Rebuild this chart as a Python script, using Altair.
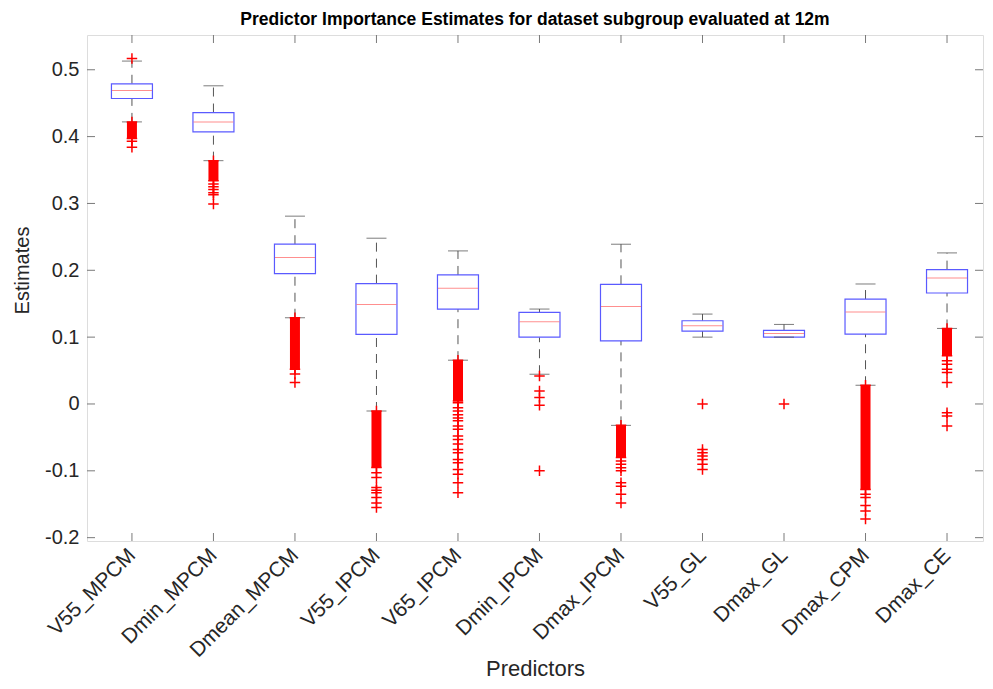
import json
import altair as alt
import pandas as pd

# ---------------- data ----------------
predictors = ["V55_MPCM", "Dmin_MPCM", "Dmean_MPCM", "V55_IPCM", "V65_IPCM",
              "Dmin_IPCM", "Dmax_IPCM", "V55_GL", "Dmax_GL", "Dmax_CPM", "Dmax_CE"]

whisker_lo = [0.422, 0.364, 0.129, -0.0105, 0.0655, 0.0445, -0.032, 0.100, 0.100, 0.028, 0.113]
q1         = [0.457, 0.407, 0.195, 0.104, 0.142, 0.100, 0.0945, 0.109, 0.100, 0.1045, 0.166]
median     = [0.469, 0.422, 0.219, 0.149, 0.173, 0.123, 0.146, 0.117, 0.1055, 0.1375, 0.1885]
q3         = [0.479, 0.436, 0.239, 0.180, 0.193, 0.137, 0.179, 0.1245, 0.110, 0.157, 0.201]
whisker_hi = [0.513, 0.476, 0.281, 0.248, 0.229, 0.142, 0.239, 0.1345, 0.119, 0.1795, 0.226]

# ranges where the outlier crosses overlap into a solid red column
dense_hi = [0.422, 0.364, 0.129, -0.0105, 0.0655, None, -0.032, None, None, 0.028, 0.113]
dense_lo = [0.397, 0.334, 0.052, -0.095, 0.0045, None, -0.080, None, None, -0.128, 0.072]

# individual outliers outside the dense columns
outliers = {
    "V55_MPCM": [0.517, 0.393, 0.384],
    "Dmin_MPCM": [0.329, 0.325, 0.321, 0.316, 0.313, 0.299],
    "Dmean_MPCM": [0.045, 0.032],
    "V55_IPCM": [-0.103, -0.110, -0.125, -0.129, -0.133, -0.140, -0.148, -0.155],
    "V65_IPCM": [0.002, -0.0055, -0.0105, -0.016, -0.021, -0.025, -0.033, -0.038,
                 -0.048, -0.053, -0.060, -0.068, -0.073, -0.083, -0.088, -0.098,
                 -0.105, -0.118, -0.133],
    "Dmin_IPCM": [0.042, 0.0195, 0.0095, -0.002, -0.100],
    "Dmax_IPCM": [-0.0855, -0.090, -0.0955, -0.100, -0.118, -0.123, -0.135, -0.148],
    "V55_GL": [0.0, -0.068, -0.073, -0.078, -0.083, -0.090, -0.098],
    "Dmax_GL": [0.0],
    "Dmax_CPM": [-0.135, -0.140, -0.152, -0.160, -0.172],
    "Dmax_CE": [0.0645, 0.0595, 0.052, 0.047, 0.032, -0.013, -0.018, -0.033],
}

y_ticks = [-0.2, -0.1, 0.0, 0.1, 0.2, 0.3, 0.4, 0.5]

# ---------------- tables ----------------
positions = list(range(1, len(predictors) + 1))
box_df = pd.DataFrame({
    "pos": positions, "name": predictors,
    "wl": whisker_lo, "q1": q1, "med": median, "q3": q3, "wh": whisker_hi,
})
dense_df = pd.DataFrame({"pos": positions, "hi": dense_hi, "lo": dense_lo}).dropna()
out_rows = []
for i, name in enumerate(predictors):
    for v in outliers.get(name, []):
        out_rows.append({"pos": i + 1, "v": v})
out_df = pd.DataFrame(out_rows)
ytick_df = pd.DataFrame({"v": y_ticks})
xtick_df = pd.DataFrame({"pos": positions})

W, H = 896, 506
FONT = "Liberation Sans"
AX = "#7a7a7a"
TXT = "#262626"

label_expr = json.dumps(predictors) + "[round(datum.value) - 1]"

xscale = alt.Scale(domain=[0.51, 11.38], nice=False, zero=False)
yscale = alt.Scale(domain=[-0.205, 0.552], nice=False, zero=False)

xaxis = alt.Axis(values=positions, labelExpr=label_expr, labelAngle=-45,
                 labelAlign="right", labelBaseline="middle", labelPadding=11,
                 labelOverlap=False, labelBound=False, labelFlush=False,
                 labelFontSize=21, labelFont=FONT, labelColor=TXT,
                 ticks=False, tickSize=0, domain=False, grid=False,
                 title="Predictors", titleFontSize=22, titleFont=FONT,
                 titleFontWeight="normal", titleColor=TXT,
                 titleY=134, titleBaseline="alphabetic")
yaxis = alt.Axis(values=y_ticks,
                 labelExpr="datum.value == 0 ? '0' : replace(format(datum.value, '.1f'), '\u2212', '-')",
                 labelPadding=8, labelFontSize=20, labelFont=FONT, labelColor=TXT,
                 labelOverlap=False,
                 ticks=False, tickSize=0, domain=False, grid=False,
                 title="Estimates", titleFontSize=20, titleFont=FONT,
                 titleFontWeight="normal", titleColor=TXT, titlePadding=12,
                 titleY=235)


def X(field):
    return alt.X(f"{field}:Q", scale=xscale, axis=xaxis, title="Predictors")


def Y(field):
    return alt.Y(f"{field}:Q", scale=yscale, axis=yaxis, title="Estimates")


base = alt.Chart(box_df)

whisk_up = base.mark_rule(color="#555555", strokeWidth=1, strokeDash=[9, 7]).encode(
    x=X("pos"), y=Y("q3"), y2="wh:Q")
whisk_dn = base.mark_rule(color="#555555", strokeWidth=1, strokeDash=[9, 7]).encode(
    x=X("pos"), y=Y("wl"), y2="q1:Q")
cap_hi = base.mark_tick(orient="horizontal", size=20, thickness=1, color="#444444").encode(
    x=X("pos"), y=Y("wh"))
cap_lo = base.mark_tick(orient="horizontal", size=20, thickness=1, color="#444444").encode(
    x=X("pos"), y=Y("wl"))
box = base.mark_bar(size=41, fill="white", stroke="#5a5aff", strokeWidth=1.2).encode(
    x=X("pos"), y=Y("q1"), y2="q3:Q")
med = base.mark_tick(orient="horizontal", size=40, thickness=1, color="#ff6060").encode(
    x=X("pos"), y=Y("med"))

dense = alt.Chart(dense_df).mark_bar(size=10, color="#ff0000").encode(
    x=X("pos"), y=Y("hi"), y2="lo:Q")
dense_caps = alt.Chart(dense_df).transform_fold(["hi", "lo"], as_=["k", "v"]).mark_point(
    shape="M-1,0L1,0M0,-1L0,1", size=110, filled=False, color="#ff0000", strokeWidth=1.5,
    opacity=1).encode(x=X("pos"), y=Y("v"))
pts = alt.Chart(out_df).mark_point(
    shape="M-1,0L1,0M0,-1L0,1", size=110, filled=False, color="#ff0000", strokeWidth=1.5,
    opacity=1).encode(x=X("pos"), y=Y("v"))

# inward MATLAB-style ticks on all four sides
yt_left = alt.Chart(ytick_df).mark_rule(color=AX, strokeWidth=1).encode(
    y=Y("v"), x=alt.value(0), x2=alt.value(8))
yt_right = alt.Chart(ytick_df).mark_rule(color=AX, strokeWidth=1).encode(
    y=Y("v"), x=alt.value(W - 8), x2=alt.value(W))
xt_bot = alt.Chart(xtick_df).mark_rule(color=AX, strokeWidth=1).encode(
    x=X("pos"), y=alt.value(H), y2=alt.value(H - 8))
xt_top = alt.Chart(xtick_df).mark_rule(color=AX, strokeWidth=1).encode(
    x=X("pos"), y=alt.value(0), y2=alt.value(8))

chart = alt.layer(
    whisk_up, whisk_dn, box, cap_hi, cap_lo, med, dense, dense_caps, pts,
    yt_left, yt_right, xt_bot, xt_top
).properties(
    width=W, height=H,
    autosize=alt.AutoSizeParams(type="none"),
    padding={"left": 79, "top": 27, "right": 2, "bottom": 140},
    title=alt.TitleParams(
        "Predictor Importance Estimates for dataset subgroup evaluated at 12m",
        fontSize=17.5, fontWeight="bold", font=FONT, color="#000000",
        anchor="middle", offset=6),
).configure_view(stroke=AX, strokeWidth=1).configure(background="white")

chart.save("out.html", embed_options={"renderer": "svg", "actions": False})
